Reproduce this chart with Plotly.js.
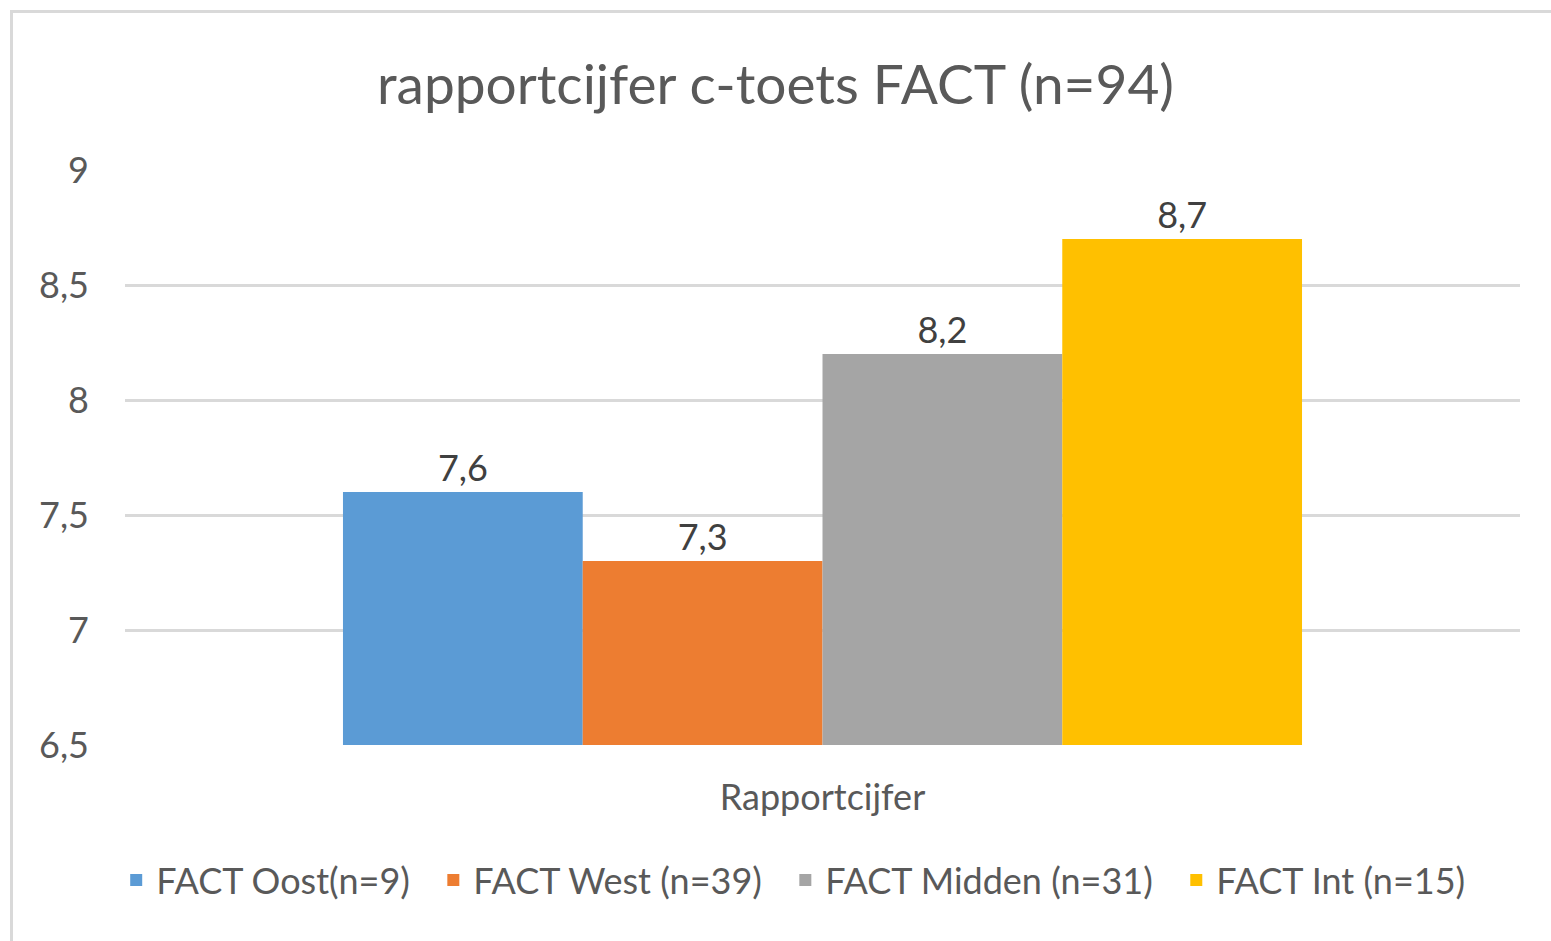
<!DOCTYPE html>
<html>
<head>
<meta charset="utf-8">
<script src="https://cdn.plot.ly/plotly-3.0.1.min.js"></script>
<style>
  html, body { margin: 0; padding: 0; overflow: hidden; background: #fff; }
  #frame { position: absolute; left: 10px; top: 10px; width: 1560px; height: 960px;
           border: 3px solid #d9d9d9; box-sizing: border-box; }
  #chart { position: absolute; left: 0; top: 0; width: 1551px; height: 941px; }
</style>
</head>
<body>
<div id="frame"></div>
<div id="chart"></div>
<script>
var category = ['Rapportcijfer'];
var seriesNames = ['FACT Oost(n=9)', 'FACT West (n=39)', 'FACT Midden (n=31)', 'FACT Int (n=15)'];
var seriesValues = [7.6, 7.3, 8.2, 8.7];
var seriesColors = ['#5b9bd5', '#ed7d31', '#a5a5a5', '#ffc000'];

var textColor = '#595959';
var fontFamily = 'Lato, "Open Sans", sans-serif';

var data = [];
for (var i = 0; i < seriesNames.length; i++) {
    // trailing nbsp only widens the gap between legend entries (like Excel)
    var legendName = i < seriesNames.length - 1 ? seriesNames[i] + '\u00a0\u00a0' : seriesNames[i];
    data.push({
        type: 'bar',
        name: legendName,
        x: category,
        y: [seriesValues[i]],
        marker: { color: seriesColors[i] },
        texttemplate: '%{y:.1f}',
        textposition: 'outside',
        textfont: { size: 36, color: '#404040', family: fontFamily },
        cliponaxis: false,
        hoverinfo: 'name+y'
    });
}

var layout = {
    width: 1551,
    height: 941,
    paper_bgcolor: 'rgba(0,0,0,0)',
    plot_bgcolor: 'rgba(0,0,0,0)',
    separators: ',.',
    font: { family: fontFamily, color: textColor, size: 36 },
    title: {
        text: 'rapportcijfer c-toets FACT (n=94)',
        font: { size: 55, color: textColor, family: fontFamily },
        x: 0.5,
        xanchor: 'center',
        y: 0.91,
        yanchor: 'middle'
    },
    margin: { l: 125, r: 31, t: 170, b: 196 },
    barmode: 'group',
    bargap: 0.3125,
    bargroupgap: 0,
    xaxis: {
        showgrid: false,
        showline: false,
        zeroline: false,
        ticks: '',
        ticklabelstandoff: 28,
        tickfont: { size: 36, color: textColor }
    },
    yaxis: {
        range: [6.5, 9],
        dtick: 0.5,
        showgrid: true,
        gridcolor: '#d9d9d9',
        gridwidth: 3,
        zeroline: false,
        showline: false,
        ticks: '',
        ticklabelstandoff: 35,
        tickfont: { size: 36, color: textColor }
    },
    showlegend: true,
    legend: {
        orientation: 'h',
        x: 0.479,
        xanchor: 'center',
        y: -0.235,
        yanchor: 'middle',
        font: { size: 36, color: textColor },
        itemwidth: 30,
        traceorder: 'normal'
    }
};

Plotly.newPlot('chart', data, layout, { displayModeBar: false, staticPlot: true });
</script>
</body>
</html>
